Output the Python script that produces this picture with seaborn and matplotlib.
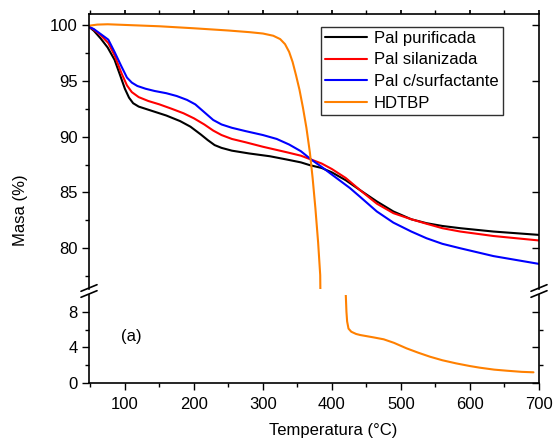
import numpy as np
import pandas as pd
import matplotlib
matplotlib.use("Agg")
import matplotlib.pyplot as plt
import seaborn as sns
from matplotlib.lines import Line2D
from matplotlib.ticker import MultipleLocator

# values
temp_pur = [48, 55, 65, 75, 85, 92, 100, 106, 112, 120, 135, 160, 180, 195, 210, 220, 230, 240,
            255, 280, 310, 335, 355, 368, 385, 400, 420, 441, 465, 489, 515, 537, 560, 586,
            634, 700]
masa_pur = [99.85, 99.5, 98.8, 98.0, 96.9, 95.7, 94.3, 93.5, 93.0, 92.7, 92.4, 91.9, 91.4, 90.9,
            90.2, 89.7, 89.25, 89.0, 88.75, 88.5, 88.25, 87.95, 87.7, 87.45, 87.2, 86.8, 86.1,
            85.2, 84.2, 83.3, 82.6, 82.25, 82.0, 81.8, 81.5, 81.2]

temp_sil = [48, 55, 65, 76, 85, 95, 103, 110, 120, 134, 150, 168, 185, 200, 215, 228, 240, 255,
            275, 300, 335, 355, 370, 385, 400, 420, 441, 465, 489, 515, 537, 560, 586, 634, 700]
masa_sil = [99.85, 99.6, 99.1, 98.4, 97.3, 95.7, 94.6, 94.0, 93.55, 93.2, 92.9, 92.5, 92.1,
            91.65, 91.1, 90.55, 90.15, 89.8, 89.5, 89.1, 88.6, 88.3, 87.95, 87.6, 87.1, 86.3,
            85.2, 84.0, 83.15, 82.6, 82.2, 81.8, 81.5, 81.1, 80.7]

temp_surf = [48, 55, 65, 76, 85, 95, 103, 110, 118, 130, 143, 160, 175, 190, 202, 215, 228, 240,
             255, 275, 300, 320, 338, 355, 370, 385, 400, 426, 441, 465, 489, 515, 537, 560,
             586, 634, 700]
masa_surf = [99.85, 99.65, 99.2, 98.7, 97.6, 96.3, 95.3, 94.85, 94.55, 94.3, 94.1, 93.9, 93.65,
             93.3, 92.9, 92.2, 91.5, 91.1, 90.8, 90.5, 90.15, 89.8, 89.3, 88.7, 87.95, 87.3,
             86.6, 85.4, 84.6, 83.3, 82.3, 81.5, 80.9, 80.4, 80.0, 79.3, 78.6]

temp_hdtbp = [48, 60, 75, 100, 150, 200, 250, 281, 300, 315, 325, 332, 338, 343, 348, 353, 358,
              363, 368, 372, 376, 380, 383, 386, 400, 418, 420, 421, 422, 424, 428, 435, 441,
              460, 475, 490, 508, 525, 542, 560, 580, 600, 614, 635, 653, 675, 692]
masa_hdtbp = [99.95, 100.05, 100.08, 100.02, 99.9, 99.72, 99.52, 99.37, 99.25, 99.05, 98.75,
              98.3, 97.6, 96.7, 95.5, 94.2, 92.6, 90.8, 88.6, 86.3, 83.6, 80.5, 77.6, 60.0, 25.0,
              11.0, 10.0, 8.0, 6.9, 6.1, 5.75, 5.5, 5.38, 5.12, 4.9, 4.5, 3.89, 3.4, 2.95, 2.55,
              2.2, 1.9, 1.72, 1.5, 1.38, 1.25, 1.2]

series = ["Pal purificada", "Pal silanizada", "Pal c/surfactante", "HDTBP"]
colors = ["#000000", "#ff0000", "#0000ff", "#ff8000"]

df = pd.concat([
    pd.DataFrame({"Temperatura": temp_pur, "Masa": masa_pur, "Muestra": series[0]}),
    pd.DataFrame({"Temperatura": temp_sil, "Masa": masa_sil, "Muestra": series[1]}),
    pd.DataFrame({"Temperatura": temp_surf, "Masa": masa_surf, "Muestra": series[2]}),
    pd.DataFrame({"Temperatura": temp_hdtbp, "Masa": masa_hdtbp, "Muestra": series[3]}),
], ignore_index=True)

sns.set_theme(style="ticks")
plt.rcParams["font.family"] = ["Liberation Sans", "DejaVu Sans"]
plt.rcParams["font.size"] = 12
for k in ["text.color", "axes.labelcolor", "xtick.color", "ytick.color", "axes.edgecolor"]:
    plt.rcParams[k] = "black"

W, H = 556, 440
fig = plt.figure(figsize=(W / 100, H / 100), dpi=100)
ax_top = fig.add_axes([89 / W, 1 - 289 / H, 450 / W, 275 / H])
ax_bot = fig.add_axes([89 / W, 1 - 383 / H, 450 / W, 88 / H], sharex=ax_top)

pal = dict(zip(series, colors))
for ax, leg in [(ax_top, True), (ax_bot, False)]:
    sns.lineplot(data=df, x="Temperatura", y="Masa", hue="Muestra", hue_order=series,
                 palette=pal, sort=False, estimator=None, lw=1.5, ax=ax, legend=leg)
    ax.set_xlabel("")
    ax.set_ylabel("")
    for s in ax.spines.values():
        s.set_linewidth(1.2)
        s.set_color("black")

ax_top.set_xlim(48, 700)
ax_top.set_ylim(76.35, 101.0)
ax_bot.set_ylim(0, 9.87)

ax_top.spines["bottom"].set_visible(False)
ax_bot.spines["top"].set_visible(False)

ax_top.yaxis.set_major_locator(MultipleLocator(5))
ax_top.yaxis.set_minor_locator(MultipleLocator(2.5))
ax_bot.yaxis.set_major_locator(MultipleLocator(4))
ax_bot.yaxis.set_minor_locator(MultipleLocator(2))
ax_bot.xaxis.set_major_locator(MultipleLocator(100))
ax_bot.xaxis.set_minor_locator(MultipleLocator(50))

ax_top.tick_params(axis="x", which="both", bottom=False, labelbottom=False, top=True,
                   direction="out", length=3)
ax_top.tick_params(axis="y", which="major", left=True, right=True, direction="out",
                   length=5, width=1, pad=3, labelsize=12)
ax_top.tick_params(axis="y", which="minor", left=True, right=False, direction="out",
                   length=3, width=1)
ax_bot.tick_params(axis="x", which="major", direction="out", length=5, width=1, pad=5,
                   labelsize=12, top=False)
ax_bot.tick_params(axis="x", which="minor", direction="out", length=3, width=1, top=False)
ax_bot.tick_params(axis="y", which="major", direction="out", length=5, width=1, pad=3,
                   labelsize=12, right=True)
ax_bot.tick_params(axis="y", which="minor", direction="out", length=3, width=1, right=True)
for t in ax_top.yaxis.get_ticklines()[1::2] + ax_bot.yaxis.get_ticklines()[1::2]:
    t.set_marker(matplotlib.lines.TICKLEFT)

# legend
ax_top.legend(loc="upper right", bbox_to_anchor=(0.919, 0.954), borderaxespad=0,
              frameon=True, fancybox=False, edgecolor="#303030", framealpha=1,
              fontsize=12, handlelength=2.5, handletextpad=0.4, labelspacing=0.4,
              borderpad=0.25, title=None)
ax_top.get_legend().get_frame().set_linewidth(1.0)

# break marks on the y axis
for xp in (89, 539):
    for yc in (288, 294):
        fig.add_artist(Line2D([(xp - 8) / W, (xp + 8) / W],
                              [1 - (yc + 3.3) / H, 1 - (yc - 3.3) / H],
                              transform=fig.transFigure, color="black", lw=1.2))

ax_bot.text(110, 5.2, "(a)", ha="center", va="center", fontsize=12)
fig.text(333.5 / W, 1 - 430 / H, "Temperatura (°C)", ha="center", va="center", fontsize=12)
fig.text(20 / W, 1 - 210 / H, "Masa (%)", ha="center", va="center", rotation=90, fontsize=12)

fig.savefig("out.png", dpi=100)
